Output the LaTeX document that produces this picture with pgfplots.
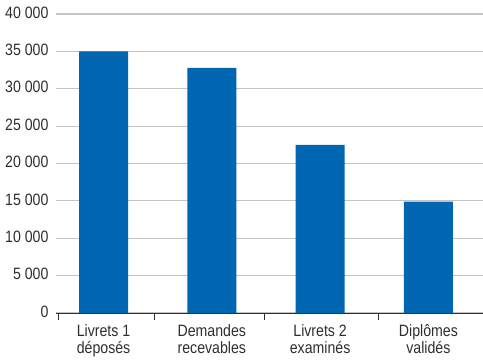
\documentclass[border=0pt]{standalone}
\usepackage{fontspec}
\setmainfont{Liberation Sans}[FakeStretch=0.86]
\usepackage{pgfplots}
\pgfplotsset{compat=1.18}
\definecolor{barblue}{HTML}{0066B2}
\definecolor{txtgray}{HTML}{2E2E2E}
\definecolor{gridgray}{HTML}{C4C4C4}
\begin{document}
\begin{tikzpicture}
\begin{axis}[
    name=ax,
    scale only axis,
    width=427bp, height=299bp,
    xmin=-0.439, xmax=3.504,
    ymin=0, ymax=40000,
    ytick distance=5000,
    scaled y ticks=false,
    enlargelimits=false,
    axis x line*=bottom,
    axis y line*=left,
    y axis line style={draw=none},
    x axis line style={draw=txtgray, line width=1bp, -},
    ymajorgrids,
    grid style={gridgray, line width=1.2bp},
    major tick length=0pt,
    xtick={0,1,2,3},
    xticklabels={{Livrets 1\\déposés},{Demandes\\recevables},{Livrets 2\\examinés},{Diplômes\\validés}},
    extra x ticks={-0.415,0.475,1.49,2.54},
    extra x tick labels={},
    extra x tick style={tick align=outside, major tick length=7bp,
        major tick style={draw=txtgray, line width=1bp}, grid=none},
    tick label style={font=\fontsize{16.5}{16.5}\selectfont, text=txtgray},
    x tick label style={align=center, yshift=-8.5bp},
    y tick label style={xshift=-4bp, yshift=1.5bp},
    /pgf/number format/.cd, 1000 sep={\ }, assume math mode=true,
]
\addplot[ybar, bar width=49bp, fill=barblue, draw=none]
    coordinates {(0,35000) (1,32800) (2,22500) (3,14900)};
\end{axis}
\pgfresetboundingbox
\path[use as bounding box] (ax.south west) ++(-56bp,-48bp) rectangle ++(483bp,361bp);
\end{tikzpicture}
\end{document}
